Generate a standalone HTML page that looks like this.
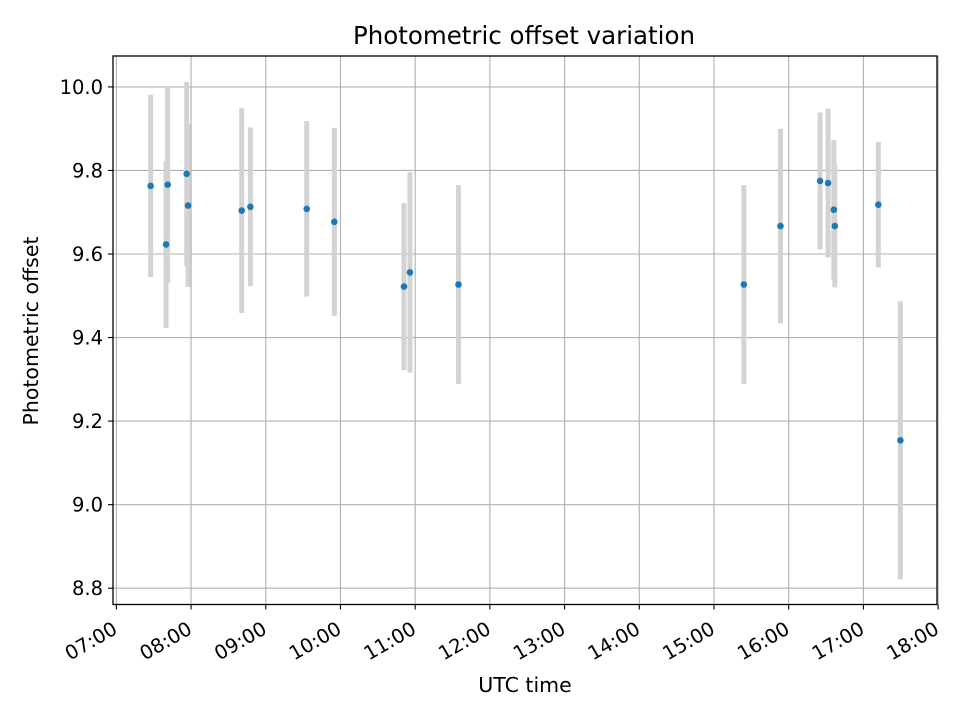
<!DOCTYPE html>
<html><head><meta charset="utf-8"><style>
html,body{margin:0;padding:0;background:#fff;}
svg text{font-family:"DejaVu Sans","Liberation Sans",sans-serif;fill:#000;}
</style></head><body>
<svg id="chart" width="960" height="720" viewBox="0 0 960 720" xmlns="http://www.w3.org/2000/svg">
<rect x="0" y="0" width="960" height="720" fill="#fff"/>
<g id="grid"></g>
<g id="errbars"></g>
<g id="points"></g>
<rect x="113" y="56" width="824" height="548.5" fill="none" stroke="#000" stroke-width="1.3"/>
<g id="ticks"></g>
<text x="524" y="44" font-size="24.5" text-anchor="middle">Photometric offset variation</text>
<text x="525" y="692" font-size="20.5" text-anchor="middle">UTC time</text>
<text x="38" y="331" font-size="20.5" text-anchor="middle" transform="rotate(-90 38 331)">Photometric offset</text>
</svg>
<script>
const times = [7.459,7.665,7.687,7.941,7.960,8.678,8.794,9.548,9.918,10.850,10.930,11.580,15.400,15.890,16.420,16.527,16.604,16.617,17.200,17.495];
const values = [9.763,9.623,9.766,9.792,9.716,9.704,9.713,9.708,9.677,9.522,9.556,9.527,9.527,9.667,9.775,9.770,9.706,9.667,9.718,9.154];
const errors = [0.218,0.200,0.235,0.220,0.195,0.245,0.190,0.210,0.225,0.200,0.240,0.238,0.238,0.233,0.164,0.178,0.167,0.147,0.150,0.333];
const xTicks = [7,8,9,10,11,12,13,14,15,16,17,18];
const xTickLabels = ["07:00","08:00","09:00","10:00","11:00","12:00","13:00","14:00","15:00","16:00","17:00","18:00"];
const yTicks = [8.8,9.0,9.2,9.4,9.6,9.8,10.0];
const yTickLabels = ["8.8","9.0","9.2","9.4","9.6","9.8","10.0"];

const X0=113, X1=937, Y0=604.5, Y1=56;
const xMin=6.955, xMax=17.985, yMin=8.761, yMax=10.074;
const sx = v => X0 + (v - xMin) / (xMax - xMin) * (X1 - X0);
const sy = v => Y0 - (v - yMin) / (yMax - yMin) * (Y0 - Y1);
const NS = "http://www.w3.org/2000/svg";
function mk(tag, attrs, parent){ const e=document.createElementNS(NS,tag); for(const k in attrs) e.setAttribute(k,attrs[k]); parent.appendChild(e); return e; }
const grid=document.getElementById('grid'), eb=document.getElementById('errbars'), pts=document.getElementById('points'), tk=document.getElementById('ticks');

xTicks.forEach((t,i)=>{
  const x=sx(t);
  const g=mk('line',{x1:x,x2:x,y1:Y1,y2:Y0,stroke:'#b0b0b0','stroke-width':1.1},grid);
  
  
  const m=mk('line',{x1:x,x2:x,y1:Y0,y2:Y0+5,stroke:'#000','stroke-width':1.1},tk);
  
  
  const ax=x-5, ay=620;
  const l=mk('text',{x:ax,y:ay,dy:'0.75em','font-size':19.5,'text-anchor':'end',transform:`rotate(-30 ${ax} ${ay})`},tk);
  l.textContent=xTickLabels[i];
  
  
});
yTicks.forEach((v,i)=>{
  const y=sy(v);
  const g=mk('line',{x1:X0,x2:X1,y1:y,y2:y,stroke:'#b0b0b0','stroke-width':1.1},grid);
  
  
  const m=mk('line',{x1:X0-5,x2:X0,y1:y,y2:y,stroke:'#000','stroke-width':1.1},tk);
  
  
  const l=mk('text',{x:X0-10,y:y+7,'font-size':19.5,'text-anchor':'end'},tk);
  l.textContent=yTickLabels[i];
  
  
});
times.forEach((t,i)=>{
  const x=sx(t);
  const b=mk('line',{x1:x,x2:x,y1:sy(values[i]+errors[i]),y2:sy(values[i]-errors[i]),stroke:'#d3d3d3','stroke-width':5},eb);
  
  
});
times.forEach((t,i)=>{
  const c=mk('circle',{cx:sx(t),cy:sy(values[i]),r:3.3,fill:'#1f77b4'},pts);
  
  
});
</script>
</body></html>
